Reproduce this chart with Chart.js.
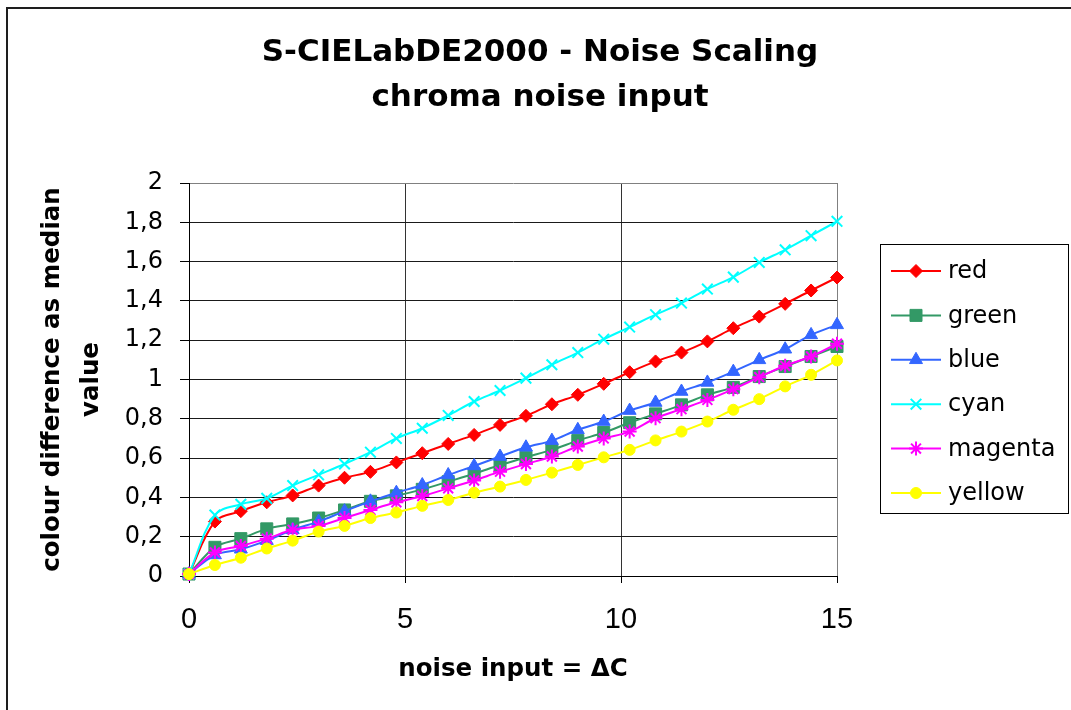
<!DOCTYPE html>
<html>
<head>
<meta charset="utf-8">
<title>S-CIELabDE2000 - Noise Scaling</title>
<script src="https://cdn.jsdelivr.net/npm/chart.js@4.4.0/dist/chart.umd.min.js"></script>
<style>
  html, body { margin: 0; padding: 0; background: #ffffff; }
  #wrap { width: 1071px; height: 710px; position: relative; }
</style>
</head>
<body>
<div id="wrap"><canvas id="chart" width="1071" height="710"></canvas></div>
<script>
// noise input ΔC (x values)
const xValues = [0, 0.6, 1.2, 1.8, 2.4, 3, 3.6, 4.2, 4.8, 5.4, 6, 6.6, 7.2, 7.8, 8.4, 9, 9.6, 10.2, 10.8, 11.4, 12, 12.6, 13.2, 13.8, 14.4, 15];

// colour difference as median value, one array per test colour
const redValues     = [0.01, 0.277, 0.33, 0.375, 0.41, 0.46, 0.50, 0.53, 0.578, 0.625, 0.672, 0.718, 0.769, 0.815, 0.874, 0.922, 0.978, 1.037, 1.092, 1.137, 1.194, 1.261, 1.32, 1.385, 1.453, 1.519];
const greenValues   = [0.01, 0.146, 0.19, 0.24, 0.265, 0.295, 0.336, 0.38, 0.408, 0.441, 0.48, 0.52, 0.565, 0.604, 0.642, 0.689, 0.73, 0.78, 0.825, 0.871, 0.922, 0.96, 1.015, 1.066, 1.117, 1.168];
const blueValues    = [0.01, 0.107, 0.136, 0.18, 0.235, 0.277, 0.33, 0.38, 0.424, 0.463, 0.514, 0.56, 0.608, 0.655, 0.689, 0.744, 0.786, 0.842, 0.883, 0.939, 0.985, 1.04, 1.10, 1.154, 1.227, 1.278];
const cyanValues    = [0.01, 0.31, 0.365, 0.395, 0.46, 0.515, 0.57, 0.63, 0.70, 0.752, 0.817, 0.888, 0.944, 1.007, 1.075, 1.137, 1.205, 1.267, 1.33, 1.389, 1.46, 1.521, 1.596, 1.66, 1.732, 1.805];
const magentaValues = [0.01, 0.12, 0.153, 0.19, 0.235, 0.255, 0.295, 0.336, 0.375, 0.407, 0.446, 0.486, 0.531, 0.57, 0.608, 0.659, 0.70, 0.735, 0.803, 0.849, 0.896, 0.951, 1.012, 1.07, 1.117, 1.182];
const yellowValues  = [0.01, 0.056, 0.093, 0.14, 0.18, 0.226, 0.255, 0.295, 0.323, 0.357, 0.387, 0.424, 0.455, 0.489, 0.526, 0.565, 0.604, 0.642, 0.69, 0.735, 0.786, 0.846, 0.90, 0.965, 1.024, 1.097];

const seriesNames = ['red', 'green', 'blue', 'cyan', 'magenta', 'yellow'];
const seriesValues = [redValues, greenValues, blueValues, cyanValues, magentaValues, yellowValues];

const titleLines = ['S-CIELabDE2000 - Noise Scaling', 'chroma noise input'];
const yAxisTitle = ['colour difference as median', 'value'];
const xAxisTitle = 'noise input = \u0394C';

// marker / line appearance per series
const seriesStyles = [
  { color: '#FF0000', pointStyle: 'rectRot',  radius: 6.5, pointBorderWidth: 1 },
  { color: '#339966', pointStyle: 'rect',     radius: 8.5, pointBorderWidth: 1 },
  { color: '#3366FF', pointStyle: 'triangle', radius: 7.5, pointBorderWidth: 1 },
  { color: '#00FFFF', pointStyle: 'crossRot', radius: 7.5, pointBorderWidth: 2 },
  { color: '#FF00FF', pointStyle: 'star',     radius: 7,   pointBorderWidth: 2 },
  { color: '#FFFF00', pointStyle: 'circle',   radius: 5.5, pointBorderWidth: 1 }
];

const datasets = seriesNames.map((name, i) => {
  const st = seriesStyles[i];
  return {
    label: name,
    data: xValues.map((x, k) => ({ x: x, y: seriesValues[i][k] })),
    borderColor: st.color,
    backgroundColor: st.color,
    borderWidth: 2,
    pointStyle: st.pointStyle,
    pointRadius: st.radius,
    pointHoverRadius: st.radius,
    pointBorderWidth: st.pointBorderWidth,
    pointBackgroundColor: st.color,
    pointBorderColor: st.color,
    tension: 0.35,
    clip: false,
    order: seriesNames.length - i
  };
});

// white page, outer frame, two-line heading and the boxed legend
const framePlugin = {
  id: 'frameAndLegend',
  beforeDraw(chart) {
    const ctx = chart.ctx;
    ctx.save();
    ctx.fillStyle = '#ffffff';
    ctx.fillRect(0, 0, chart.width, chart.height);
    ctx.strokeStyle = '#1e1e1e';
    ctx.lineWidth = 2;
    ctx.strokeRect(7, 8, chart.width + 20, chart.height + 20);
    ctx.restore();
  },
  afterDraw(chart) {
    const ctx = chart.ctx;
    ctx.save();
    // heading
    ctx.fillStyle = '#000000';
    ctx.font = 'bold 31px "DejaVu Sans", "Liberation Sans", Arial, sans-serif';
    ctx.textAlign = 'center';
    ctx.textBaseline = 'alphabetic';
    ctx.fillText(titleLines[0], 540, 61);
    ctx.fillText(titleLines[1], 540, 106);

    // legend box
    const boxL = 880, boxT = 244, boxW = 188, boxH = 269;
    ctx.fillStyle = '#ffffff';
    ctx.fillRect(boxL, boxT, boxW, boxH);
    ctx.strokeStyle = '#000000';
    ctx.lineWidth = 1;
    ctx.strokeRect(boxL + 0.5, boxT + 0.5, boxW, boxH);

    const rowTop = 271, rowStep = 44.4;
    ctx.font = '24px "DejaVu Sans", "Liberation Sans", Arial, sans-serif';
    ctx.textAlign = 'left';
    ctx.textBaseline = 'middle';
    chart.data.datasets.forEach((ds, i) => {
      const y = rowTop + i * rowStep;
      ctx.strokeStyle = ds.borderColor;
      ctx.lineWidth = 2;
      ctx.beginPath();
      ctx.moveTo(891, y);
      ctx.lineTo(941, y);
      ctx.stroke();
      ctx.fillStyle = ds.pointBackgroundColor;
      ctx.strokeStyle = ds.pointBorderColor;
      ctx.lineWidth = ds.pointBorderWidth;
      Chart.helpers.drawPoint(ctx, {
        pointStyle: ds.pointStyle,
        radius: ds.pointRadius,
        rotation: 0,
        borderWidth: ds.pointBorderWidth
      }, 916, y);
      ctx.fillStyle = '#000000';
      ctx.fillText(ds.label, 948, y + 1);
    });
    ctx.restore();
  }
};

new Chart(document.getElementById('chart'), {
  type: 'line',
  data: { datasets: datasets },
  options: {
    responsive: false,
    animation: false,
    events: [],
    layout: { padding: { left: 8, top: 183, right: 234, bottom: 0 } },
    plugins: {
      legend: { display: false },
      title: { display: false },
      tooltip: { enabled: false }
    },
    scales: {
      x: {
        type: 'linear',
        min: 0,
        max: 15,
        afterFit(scale) { scale.height = 134; },
        ticks: {
          stepSize: 5,
          padding: 20,
          color: '#000000',
          font: { family: '"Liberation Sans", Arial, sans-serif', size: 29 },
          maxRotation: 0
        },
        grid: {
          color: (c) => (c.tick && c.tick.value === 15 ? '#808080' : '#333333'),
          lineWidth: 1,
          tickLength: 7,
          tickColor: '#000000',
          drawTicks: true
        },
        border: { display: true, color: '#000000', width: 1 },
        title: {
          display: true,
          text: xAxisTitle,
          color: '#000000',
          font: { family: '"DejaVu Sans", "Liberation Sans", Arial, sans-serif', size: 24.5, weight: 'bold' },
          padding: { top: 0, bottom: 26 }
        }
      },
      y: {
        type: 'linear',
        min: 0,
        max: 2,
        afterFit(scale) { scale.width = 181; },
        ticks: {
          stepSize: 0.2,
          padding: 17,
          color: '#000000',
          font: { family: '"DejaVu Sans", "Liberation Sans", Arial, sans-serif', size: 24 },
          callback: (v) => String(Math.round(v * 10) / 10).replace('.', ',')
        },
        grid: {
          color: (c) => (c.tick && c.tick.value === 2 ? '#808080' : '#1a1a1a'),
          lineWidth: 1,
          tickLength: 9,
          tickColor: '#000000',
          drawTicks: true
        },
        border: { display: true, color: '#000000', width: 1 },
        title: {
          display: true,
          text: yAxisTitle,
          color: '#000000',
          font: { family: '"DejaVu Sans", "Liberation Sans", Arial, sans-serif', size: 24.5, weight: 'bold', lineHeight: 1.56 },
          padding: { top: 26, bottom: 0 }
        }
      }
    }
  },
  plugins: [framePlugin]
});
</script>
</body>
</html>
